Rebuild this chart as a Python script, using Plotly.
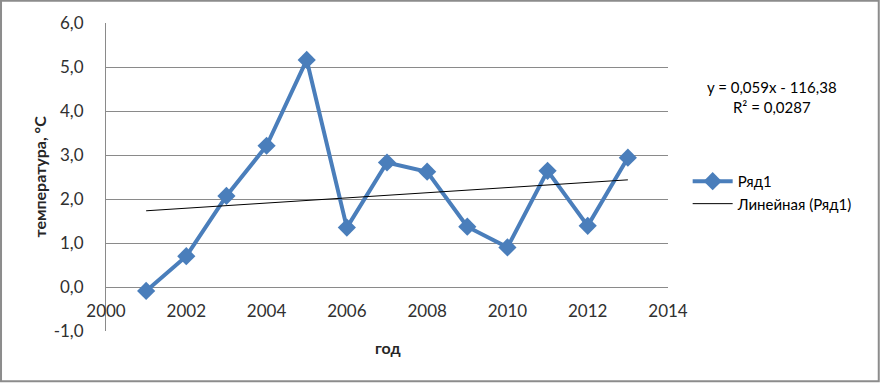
import numpy as np
import plotly.graph_objects as go

years = [2001, 2002, 2003, 2004, 2005, 2006, 2007, 2008, 2009, 2010, 2011, 2012, 2013]
temps = [-0.09, 0.70, 2.07, 3.21, 5.16, 1.35, 2.83, 2.62, 1.37, 0.90, 2.64, 1.39, 2.94]
x_ticks = [2000, 2002, 2004, 2006, 2008, 2010, 2012, 2014]
y_ticks = [-1, 0, 1, 2, 3, 4, 5, 6]

FONT = "Lato, 'Open Sans', sans-serif"
BLUE = '#4a7ebb'
GRID = '#8a8a8a'

# linear trend like Excel's trendline
k, b = np.polyfit(years, temps, 1)
trend = [k * x + b for x in years]

fig = go.Figure()
fig.add_trace(go.Scatter(
    x=years, y=temps, name='Ряд1', mode='lines+markers',
    line=dict(color=BLUE, width=4),
    marker=dict(symbol='diamond', size=14, color=BLUE),
))
fig.add_trace(go.Scatter(
    x=years, y=trend, name='Линейная (Ряд1)', mode='lines',
    line=dict(color='black', width=1),
))

fig.update_layout(
    width=881, height=383,
    margin=dict(l=106, r=213, t=23, b=52),
    paper_bgcolor='white', plot_bgcolor='white',
    font=dict(family=FONT, size=17, color='#303030'),
    showlegend=True,
    legend=dict(x=1.035, y=0.45, xanchor='left', yanchor='middle',
                font=dict(size=15, color='black'), tracegroupgap=8,
                itemwidth=40, bgcolor='rgba(0,0,0,0)'),
    xaxis=dict(range=[2000, 2014], tickvals=x_ticks, showgrid=False,
               showline=False, zeroline=False, anchor='free',
               position=1 / 7, ticks='', ticklabelstandoff=12),
    yaxis=dict(range=[-1, 6], tickvals=y_ticks,
               ticktext=[f'{v:.1f}'.replace('.', ',') for v in y_ticks],
               showgrid=True, gridcolor=GRID, gridwidth=1,
               showline=True, linecolor=GRID, linewidth=1,
               zeroline=False, ticks='', ticklabelstandoff=18),
)

fig.add_annotation(text='<b>температура, °С</b>', xref='paper', yref='paper',
                   x=-0.12, y=0.5, textangle=-90, showarrow=False,
                   xanchor='center', yanchor='middle',
                   font=dict(size=16, color='#262626'))
fig.add_annotation(text='<b>год</b>', xref='paper', yref='paper',
                   x=0.502, y=-0.055, showarrow=False,
                   xanchor='center', yanchor='middle',
                   font=dict(size=16, color='#262626'))
fig.add_annotation(text='y = 0,059x - 116,38<br>R² = 0,0287', xref='paper',
                   yref='paper', x=1.185, y=0.76, showarrow=False,
                   xanchor='center', yanchor='middle', align='center',
                   font=dict(size=15, color='black'))

# chart area border
fig.add_shape(type='rect', xref='paper', yref='paper',
              x0=-0.1868, x1=1.375, y0=-0.163, y1=1.072,
              line=dict(color='#8c8c8c', width=2), layer='below')

# drop the browser's default body margin so the figure sits at 0,0
fig.write_html("out.html", config={'displayModeBar': False},
               post_script="document.body.style.margin='0';")
